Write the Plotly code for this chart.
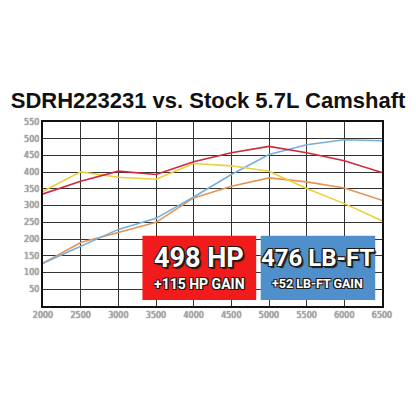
import plotly.graph_objects as go

rpm = [2000, 2500, 3000, 3500, 4000, 4500, 5000, 5500, 6000, 6500]
red_torque = [335, 373, 403, 393, 431, 458, 477, 458, 434, 399]
yellow_torque = [343, 401, 385, 379, 426, 419, 403, 351, 306, 255]
blue_hp = [128, 179, 229, 262, 326, 393, 453, 482, 497, 494]
orange_hp = [128, 190, 220, 250, 323, 358, 383, 371, 353, 316]

x_ticks = [2000, 2500, 3000, 3500, 4000, 4500, 5000, 5500, 6000, 6500]
y_ticks = [50, 100, 150, 200, 250, 300, 350, 400, 450, 500, 550]

title = "SDRH223231 vs. Stock 5.7L Camshaft"
hp_box = {"x": [3320, 4830], "y": [18, 210], "big": "498 HP", "small": "+115 HP GAIN", "color": "#F21B1B"}
tq_box = {"x": [4890, 6410], "y": [18, 210], "big": "476 LB-FT", "small": "+52 LB-FT GAIN", "color": "#4F8FCB"}

fig = go.Figure()
series = [
    (orange_hp, "#E39457"),
    (blue_hp, "#78AED8"),
    (yellow_torque, "#EDCF3C"),
    (red_torque, "#D2283A"),
]
for vals, col in series:
    fig.add_trace(go.Scatter(x=rpm, y=vals, mode="lines",
                             line=dict(color=col, width=1.6), showlegend=False,
                             hoverinfo="skip"))

cond = "Roboto, sans-serif"
outline = ("1px 1px 0 #1a1a1a, -1px -1px 0 #1a1a1a, 1px -1px 0 #1a1a1a, -1px 1px 0 #1a1a1a, "
           "2px 2px 1px #1a1a1a")
outline_s = "1px 1px 0 #1a1a1a, -1px -1px 0 #1a1a1a, 1px -1px 0 #1a1a1a, -1px 1px 0 #1a1a1a"
for b, bs, ss in ((hp_box, 27, 14), (tq_box, 24, 12.5)):
    fig.add_shape(type="rect", xref="x", yref="y", x0=b["x"][0], x1=b["x"][1],
                  y0=b["y"][0], y1=b["y"][1], fillcolor=b["color"],
                  line=dict(width=0), layer="above")
    xm = (b["x"][0] + b["x"][1]) / 2
    fig.add_annotation(x=xm, y=b["y"][0] + (b["y"][1] - b["y"][0]) * 0.65,
                       xref="x", yref="y", text="<b>%s</b>" % b["big"], showarrow=False,
                       font=dict(family=cond, size=bs, color="white", shadow=outline))
    fig.add_annotation(x=xm, y=b["y"][0] + (b["y"][1] - b["y"][0]) * 0.25,
                       xref="x", yref="y", text="<b>%s</b>" % b["small"], showarrow=False,
                       font=dict(family=cond, size=ss, color="white", shadow=outline_s))

tickfont = dict(family="DejaVu Sans, sans-serif", size=8, color="#b0b0b0",
                shadow="0px 0px 1px #333")
fig.update_layout(
    width=416, height=416,
    margin=dict(l=43, r=34, t=122, b=110),
    paper_bgcolor="white", plot_bgcolor="white",
    title=dict(text="<b>%s</b>" % title, x=0.5, xanchor="center", y=1 - 100 / 416,
               yanchor="middle",
               font=dict(family="Liberation Sans, Arial, sans-serif", size=22, color="#111")),
    xaxis=dict(range=[2000, 6500], tickvals=x_ticks, ticktext=[str(v) for v in x_ticks],
               showgrid=True, gridcolor="#333333", gridwidth=1.3,
               showline=True, linecolor="#111", linewidth=2, mirror=True,
               ticks="", zeroline=False, tickfont=tickfont),
    yaxis=dict(range=[0, 550], tickvals=y_ticks, ticktext=[str(v) for v in y_ticks],
               showgrid=True, gridcolor="#333333", gridwidth=1.3,
               showline=True, linecolor="#111", linewidth=2, mirror=True,
               ticks="", zeroline=False, tickfont=tickfont),
)

fig.write_html("out.html", config={"displayModeBar": False},
               post_script="document.body.style.margin='0';")
